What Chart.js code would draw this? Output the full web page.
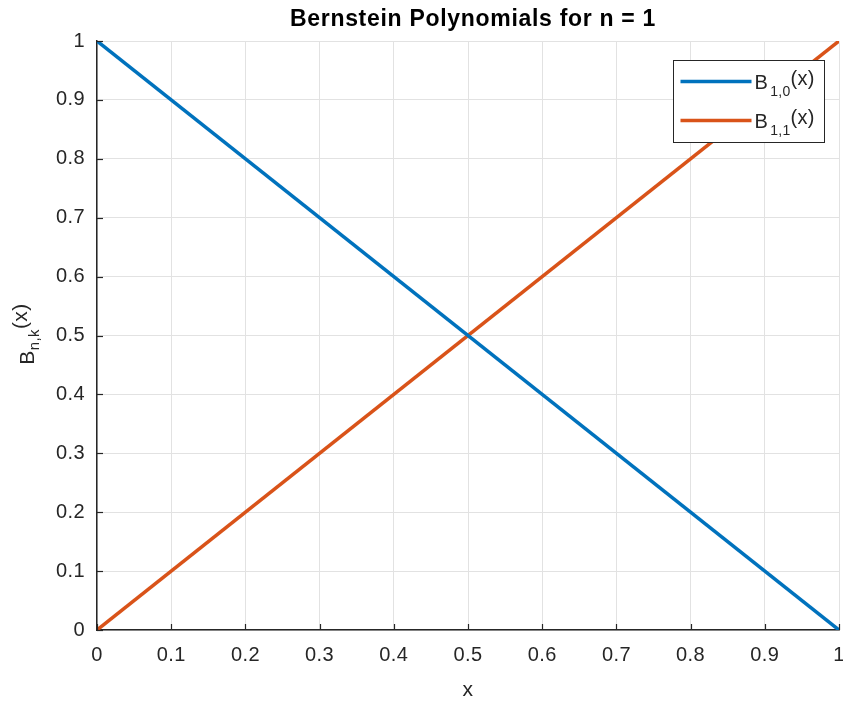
<!DOCTYPE html>
<html>
<head>
<meta charset="utf-8">
<script src="https://cdn.jsdelivr.net/npm/chart.js@4/dist/chart.umd.min.js"></script>
<style>
html,body{margin:0;padding:0;background:#fff;}
#wrap{width:843px;height:702px;position:relative;}
</style>
</head>
<body>
<div id="wrap"><canvas id="c" width="843" height="702"></canvas></div>
<script>
const xValues = [0, 1];
const b10 = [1, 0];
const b11 = [0, 1];
const xTicks = [0,0.1,0.2,0.3,0.4,0.5,0.6,0.7,0.8,0.9,1];
const yTicks = [0,0.1,0.2,0.3,0.4,0.5,0.6,0.7,0.8,0.9,1];
const titleText = 'Bernstein Polynomials for n = 1';
const legendItems = [
  {base:'B', sub:'1,0', tail:'(x)', color:'#0072BD'},
  {base:'B', sub:'1,1', tail:'(x)', color:'#D95319'}
];

const FONT = 'Liberation Sans, Arial, Helvetica, sans-serif';
const TXT = '#262626';

const decor = {
  id:'decor',
  beforeDraw(chart){ chart.ctx.letterSpacing = '0.4px'; },
  afterDraw(chart){
    const ctx = chart.ctx, a = chart.chartArea;
    const xs = chart.scales.x, ys = chart.scales.y;
    ctx.save();
    // inward ticks
    ctx.strokeStyle = TXT; ctx.lineWidth = 1.2;
    xTicks.forEach(v=>{const px=Math.round(xs.getPixelForValue(v))+0.5;ctx.beginPath();ctx.moveTo(px,a.bottom);ctx.lineTo(px,a.bottom-6);ctx.stroke();});
    yTicks.forEach(v=>{const py=Math.round(ys.getPixelForValue(v))+0.5;ctx.beginPath();ctx.moveTo(a.left,py);ctx.lineTo(a.left+6,py);ctx.stroke();});
    // title
    ctx.fillStyle = '#000';
    ctx.letterSpacing = '0.7px';
    ctx.font = 'bold 23px ' + FONT;
    ctx.textAlign='center'; ctx.textBaseline='middle';
    ctx.fillText(titleText, (a.left+a.right)/2 + 5, 20);
    // x label
    ctx.letterSpacing = '0.4px';
    ctx.fillStyle = TXT;
    ctx.font = '21px ' + FONT;
    ctx.fillText('x', (a.left+a.right)/2, 690);
    // y label rotated
    ctx.save();
    ctx.translate(27, 334);
    ctx.rotate(-Math.PI/2);
    ctx.textBaseline='alphabetic';
    ctx.font = '21px ' + FONT;
    const wB = ctx.measureText('B').width;
    ctx.font = '15px ' + FONT;
    const wS = ctx.measureText('n,k').width;
    ctx.font = '21px ' + FONT;
    const wT = ctx.measureText('(x)').width;
    let x0 = -(wB+wS+wT)/2;
    ctx.textAlign='left';
    ctx.fillText('B', x0, 7);
    ctx.font = '15px ' + FONT;
    ctx.fillText('n,k', x0+wB, 12);
    ctx.font = '21px ' + FONT;
    ctx.fillText('(x)', x0+wB+wS, 0);
    ctx.restore();
    // legend
    const lx=673.5, ly=60.5, lw=151, lh=82;
    ctx.fillStyle='#fff'; ctx.fillRect(lx,ly,lw,lh);
    ctx.strokeStyle='#262626'; ctx.lineWidth=1; ctx.strokeRect(lx,ly,lw,lh);
    ctx.letterSpacing = '0.3px';
    legendItems.forEach((it,i)=>{
      const cy = ly + 21 + i*39;
      ctx.strokeStyle=it.color; ctx.lineWidth=3.5;
      ctx.beginPath(); ctx.moveTo(lx+7,cy); ctx.lineTo(lx+78,cy); ctx.stroke();
      ctx.fillStyle=TXT; ctx.textAlign='left'; ctx.textBaseline='alphabetic';
      ctx.font='20px '+FONT;
      ctx.fillText(it.base, lx+81, cy+7);
      const w1=ctx.measureText(it.base).width;
      ctx.font='14px '+FONT;
      ctx.fillText(it.sub, lx+81+w1+2, cy+14);
      const w2=ctx.measureText(it.sub).width;
      ctx.font='20px '+FONT;
      ctx.fillText(it.tail, lx+81+w1+2+w2, cy+3);
    });
    ctx.restore();
  }
};

new Chart(document.getElementById('c'), {
  type:'line',
  data:{
    datasets:[
      {label:'B10', data:xValues.map((x,i)=>({x:x,y:b10[i]})), borderColor:'#0072BD', borderWidth:3.5, pointRadius:0, fill:false, tension:0},
      {label:'B11', data:xValues.map((x,i)=>({x:x,y:b11[i]})), borderColor:'#D95319', borderWidth:3.5, pointRadius:0, fill:false, tension:0}
    ]
  },
  options:{
    responsive:false, animation:false,
    layout:{padding:{top:41,right:4,left:0,bottom:0}},
    plugins:{legend:{display:false}, title:{display:false}, tooltip:{enabled:false}},
    scales:{
      x:{type:'linear', min:0, max:1,
        afterBuildTicks(s){s.ticks = xTicks.map(v=>({value:v}));},
        afterFit(s){s.height = 72; s.paddingLeft = 0; s.paddingRight = 0;},
        ticks:{color:TXT, font:{family:FONT,size:20}, padding:13, maxRotation:0, autoSkip:false,
          callback:v=>String(Math.round(v*10)/10)},
        grid:{color:'#e2e2e2', lineWidth:1, drawTicks:false},
        border:{color:TXT, width:1.5}
      },
      y:{type:'linear', min:0, max:1,
        afterBuildTicks(s){s.ticks = yTicks.map(v=>({value:v}));},
        afterFit(s){s.width = 97; s.paddingTop = 0; s.paddingBottom = 0;},
        ticks:{color:TXT, font:{family:FONT,size:20}, padding:12, autoSkip:false,
          callback:v=>String(Math.round(v*10)/10)},
        grid:{color:'#e2e2e2', lineWidth:1, drawTicks:false},
        border:{color:TXT, width:1.5}
      }
    }
  },
  plugins:[decor]
});
</script>
</body>
</html>
